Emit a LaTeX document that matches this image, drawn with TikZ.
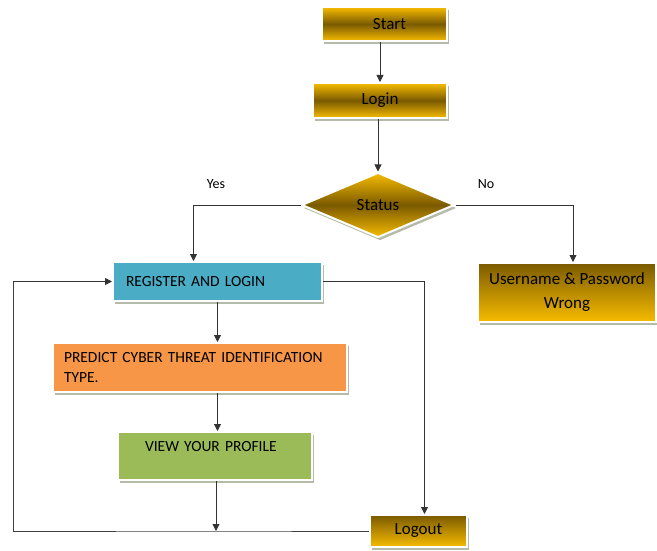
\documentclass[tikz,border=0pt]{standalone}
\usepackage{fontspec}
\setmainfont{Carlito}
\usetikzlibrary{shapes.geometric,shadows,calc,arrows.meta}
\definecolor{goldl}{HTML}{F7BC00}
\definecolor{goldd}{HTML}{7A5A00}
\definecolor{shadowc}{HTML}{B4BBA8}
\definecolor{regc}{HTML}{4BACC6}
\definecolor{predc}{HTML}{F79646}
\definecolor{viewc}{HTML}{9BBB59}
\begin{document}
\begin{tikzpicture}[x=1pt,y=-1pt,
  box/.style={draw=white, line width=2pt, inner sep=0pt,
    drop shadow={shadow xshift=2pt, shadow yshift=-3pt, fill=shadowc, opacity=1}},
  gold/.style={box, top color=goldl, bottom color=goldl, middle color=goldd,
    font=\fontsize{17}{20}\selectfont},
  golddown/.style={box, top color=goldd, bottom color=goldl,
    font=\fontsize{17}{24}\selectfont},
  colbox/.style={box, font=\fontsize{15.5}{20}\selectfont, align=left},
  arr/.style={-{Triangle[length=7pt,width=7pt]}, line width=0.8pt, draw=black!80},
  conn/.style={line width=0.8pt, draw=black!75},
  lbl/.style={font=\fontsize{14}{17}\selectfont}]
\useasboundingbox (0,0) rectangle (657,551);

\node[gold, minimum width=125, minimum height=34] (start) at (384.5,24) {\hspace*{10pt}Start};
\node[gold, minimum width=134, minimum height=35] (login) at (380,100.5) {Login};
\node[gold, diamond, minimum width=153, minimum height=65] (status) at (378,205) {Status};
\node[golddown, minimum width=178, minimum height=59, align=center] (user) at (567,292.5) {Username \& Password\\Wrong};
\node[colbox, fill=regc, minimum width=209, minimum height=39, text width=183] (reg) at (217.5,281.5) {REGISTER AND LOGIN};
\node[colbox, fill=predc, minimum width=294, minimum height=49, text width=272] (pred) at (200,367.5) {PREDICT CYBER THREAT IDENTIFICATION\\TYPE.};
\node[colbox, fill=viewc, minimum width=194, minimum height=48, text width=140] (view) at (215,456) {VIEW YOUR PROFILE\\[0pt]~};
\node[golddown, minimum width=97, minimum height=32] (logout) at (418.5,531) {Logout};

\node[lbl] (yes) at (216,184) {Yes};
\node[lbl] (no) at (486,184) {No};

\coordinate (j) at (216,531);
\coordinate (lc) at (13,531);

\draw[arr] (login.north |- start.south) -- (login.north);
\draw[arr] (login.south -| status.north) -- (status.north);
\draw[arr] (status.west) -| ($(reg.north)+(-24,0)$);
\draw[arr] (status.east) -| ($(user.north)+(6,0)$);
\draw[arr] (reg.south) -- (reg.south |- pred.north);
\draw[arr] (reg.south |- pred.south) -- (reg.south |- view.north);
\draw[arr] (j |- view.south) -- (j);
\draw[conn] (logout.west) -- (j) -- (lc) -- (lc |- reg.west);
\draw[arr] (lc |- reg.west) -- (reg.west);
\draw[arr] (reg.east) -| ($(logout.north)+(6,0)$);
\end{tikzpicture}
\end{document}
